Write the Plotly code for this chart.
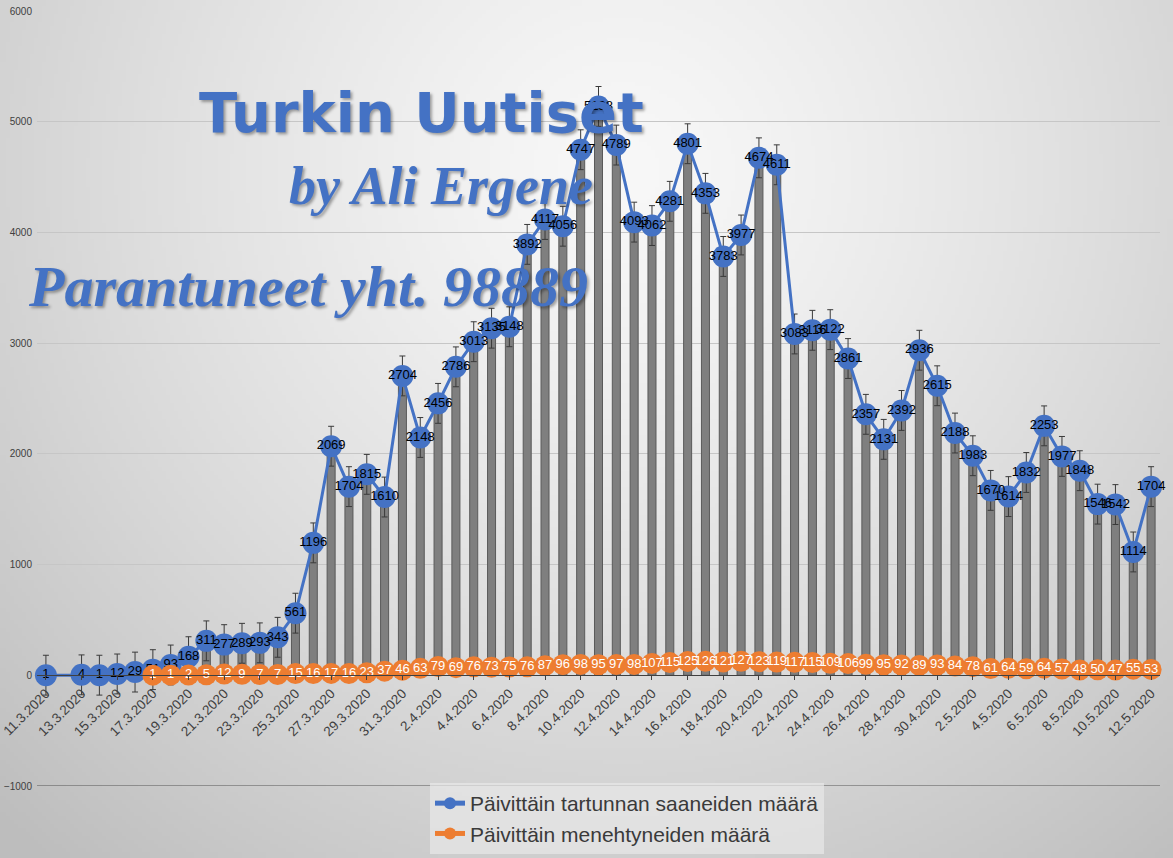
"""
Turkin Uutiset: daily COVID-19 cases and deaths in Turkey, 11.3.-12.5.2020.
"""

import base64
import struct
import zlib

import numpy as np
import plotly.graph_objects as go

DATES = [
    "11.3.2020", "12.3.2020", "13.3.2020", "14.3.2020", "15.3.2020", "16.3.2020",
    "17.3.2020", "18.3.2020", "19.3.2020", "20.3.2020", "21.3.2020", "22.3.2020",
    "23.3.2020", "24.3.2020", "25.3.2020", "26.3.2020", "27.3.2020", "28.3.2020",
    "29.3.2020", "30.3.2020", "31.3.2020", "1.4.2020", "2.4.2020", "3.4.2020",
    "4.4.2020", "5.4.2020", "6.4.2020", "7.4.2020", "8.4.2020", "9.4.2020",
    "10.4.2020", "11.4.2020", "12.4.2020", "13.4.2020", "14.4.2020", "15.4.2020",
    "16.4.2020", "17.4.2020", "18.4.2020", "19.4.2020", "20.4.2020", "21.4.2020",
    "22.4.2020", "23.4.2020", "24.4.2020", "25.4.2020", "26.4.2020", "27.4.2020",
    "28.4.2020", "29.4.2020", "30.4.2020", "1.5.2020", "2.5.2020", "3.5.2020",
    "4.5.2020", "5.5.2020", "6.5.2020", "7.5.2020", "8.5.2020", "9.5.2020",
    "10.5.2020", "11.5.2020", "12.5.2020",
]

# Daily new cases (12.3. left blank in the source chart)
CASES = [
    1, None, 4, 1, 12, 29, 51, 93, 168, 311, 277, 289, 293, 343, 561, 1196,
    2069, 1704, 1815, 1610, 2704, 2148, 2456, 2786, 3013, 3135, 3148, 3892,
    4117, 4056, 4747, 5138, 4789, 4093, 4062, 4281, 4801, 4353, 3783, 3977,
    4674, 4611, 3083, 3116, 3122, 2861, 2357, 2131, 2392, 2936, 2615, 2188,
    1983, 1670, 1614, 1832, 2253, 1977, 1848, 1546, 1542, 1114, 1704,
]

# Daily deaths
DEATHS = [
    None, None, None, None, None, None, 1, 1, 2, 5, 12, 9, 7, 7, 15, 16,
    17, 16, 23, 37, 46, 63, 79, 69, 76, 73, 75, 76, 87, 96, 98, 95, 97, 98,
    107, 115, 125, 126, 121, 127, 123, 119, 117, 115, 109, 106, 99, 95, 92,
    89, 93, 84, 78, 61, 64, 59, 64, 57, 48, 50, 47, 55, 53,
]

ERROR_SIZE = 180
TICK_DATES = DATES[::2]

W, H = 1173, 858
L, R, T, B = 37, 13, 11, 72
PW, PH = W - L - R, H - T - B

BLUE = "#4472C4"
ORANGE = "#ED7D31"


def px_x(x):
    return (x - L) / PW


def px_y(y):
    return (H - B - y) / PH


def gradient_png():
    """Soft radial grey background like the Excel chart style, as a data URI."""
    w, h = W // 4, H // 4
    yy, xx = np.mgrid[0:h, 0:w]
    d = np.hypot(xx * 4 - 620, yy * 4 - 170) / 720
    v = 248 - 44 * np.clip(d, 0, 1.25) ** 1.3
    img = np.repeat(v[..., None], 3, axis=2).clip(0, 255).astype(np.uint8)
    raw = b"".join(b"\x00" + img[r].tobytes() for r in range(h))

    def chunk(tag, data):
        return (struct.pack(">I", len(data)) + tag + data
                + struct.pack(">I", zlib.crc32(tag + data) & 0xFFFFFFFF))

    png = (b"\x89PNG\r\n\x1a\n"
           + chunk(b"IHDR", struct.pack(">IIBBBBB", w, h, 8, 2, 0, 0, 0))
           + chunk(b"IDAT", zlib.compress(raw))
           + chunk(b"IEND", b""))
    return "data:image/png;base64," + base64.b64encode(png).decode()


fig = go.Figure()

# Grey columns with constant error bars
fig.add_trace(go.Bar(
    x=DATES,
    y=CASES,
    width=0.45,
    marker=dict(color="#7f7f7f", line=dict(color="#5a5a5a", width=1)),
    error_y=dict(type="constant", value=ERROR_SIZE, color="#3a3a3a",
                 thickness=1, width=3),
    showlegend=False,
    hoverinfo="skip",
))

fig.add_trace(go.Scatter(
    x=DATES,
    y=CASES,
    name="Päivittäin tartunnan saaneiden määrä",
    mode="lines+markers+text",
    connectgaps=True,
    cliponaxis=False,
    line=dict(color=BLUE, width=3),
    marker=dict(color=BLUE, size=22),
    text=[str(v) if v is not None else "" for v in CASES],
    textposition="middle center",
    textfont=dict(family="Liberation Sans", size=13, color="#000000"),
    hovertemplate="<b>%{x}</b><br>Tartunnat: %{y}<extra></extra>",
))

fig.add_trace(go.Scatter(
    x=DATES,
    y=DEATHS,
    name="Päivittäin menehtyneiden määrä",
    mode="lines+markers+text",
    cliponaxis=False,
    line=dict(color=ORANGE, width=3),
    marker=dict(color=ORANGE, size=21),
    text=[str(v) if v is not None else "" for v in DEATHS],
    textposition="middle center",
    textfont=dict(family="Liberation Sans", size=13, color="#ffffff"),
    hovertemplate="<b>%{x}</b><br>Kuolleet: %{y}<extra></extra>",
))

# Bottom axis line at -1000
fig.add_shape(type="line", xref="paper", yref="y", x0=0, x1=1, y0=-1000, y1=-1000,
              line=dict(color="#555555", width=1))

text_font = dict(color=BLUE, shadow="2px 2px 3px rgba(0,0,0,0.35)")
fig.add_annotation(
    text="Turkin Uutiset", xref="paper", yref="paper",
    x=px_x(421), y=px_y(112), xanchor="center", yanchor="middle",
    showarrow=False,
    font=dict(family="DejaVu Sans", size=56, weight="bold", **text_font),
)
fig.add_annotation(
    text="by Ali Ergene", xref="paper", yref="paper",
    x=px_x(441), y=px_y(186), xanchor="center", yanchor="middle",
    showarrow=False,
    font=dict(family="Liberation Serif", size=54, weight="bold",
              style="italic", **text_font),
)
fig.add_annotation(
    text="Parantuneet yht. 98889", xref="paper", yref="paper",
    x=px_x(308), y=px_y(286), xanchor="center", yanchor="middle",
    showarrow=False,
    font=dict(family="Liberation Serif", size=58, weight="bold",
              style="italic", **text_font),
)

fig.add_layout_image(
    source=gradient_png(), xref="paper", yref="paper",
    x=-L / PW, y=1 + T / PH, sizex=W / PW, sizey=H / PH,
    xanchor="left", yanchor="top", sizing="stretch", layer="below",
)

fig.update_layout(
    width=W,
    height=H,
    margin=dict(l=L, r=R, t=T, b=B, autoexpand=False),
    paper_bgcolor="#dedede",
    plot_bgcolor="rgba(0,0,0,0)",
    font=dict(family="Liberation Sans", color="#404040"),
    xaxis=dict(
        type="category",
        range=[-0.5, len(DATES) - 0.5],
        tickvals=TICK_DATES,
        ticktext=TICK_DATES,
        tickangle=-45,
        tickfont=dict(size=13.5, color="#404040"),
        ticks="outside",
        ticklen=4,
        tickcolor="#404040",
        showgrid=False,
        showline=True,
        linecolor="#404040",
        linewidth=1,
        anchor="free",
        position=1000 / 7000,
        automargin=False,
    ),
    yaxis=dict(
        range=[-1000, 6000],
        dtick=1000,
        tickfont=dict(size=10, color="#404040"),
        gridcolor="#c6c6c6",
        zeroline=False,
        ticklabelstandoff=4,
        automargin=False,
    ),
    legend=dict(
        x=px_x(627),
        xanchor="center",
        y=px_y(783),
        yanchor="top",
        bgcolor="rgba(232,232,232,0.7)",
        font=dict(size=21, color="#3a3a3a"),
        itemsizing="constant",
        tracegroupgap=0,
    ),
    showlegend=True,
)

# Page body margin off so the figure sits at the window's top-left corner
fig.write_html(
    "out.html",
    config={"displayModeBar": False},
    post_script="document.body.style.margin = '0';",
)
